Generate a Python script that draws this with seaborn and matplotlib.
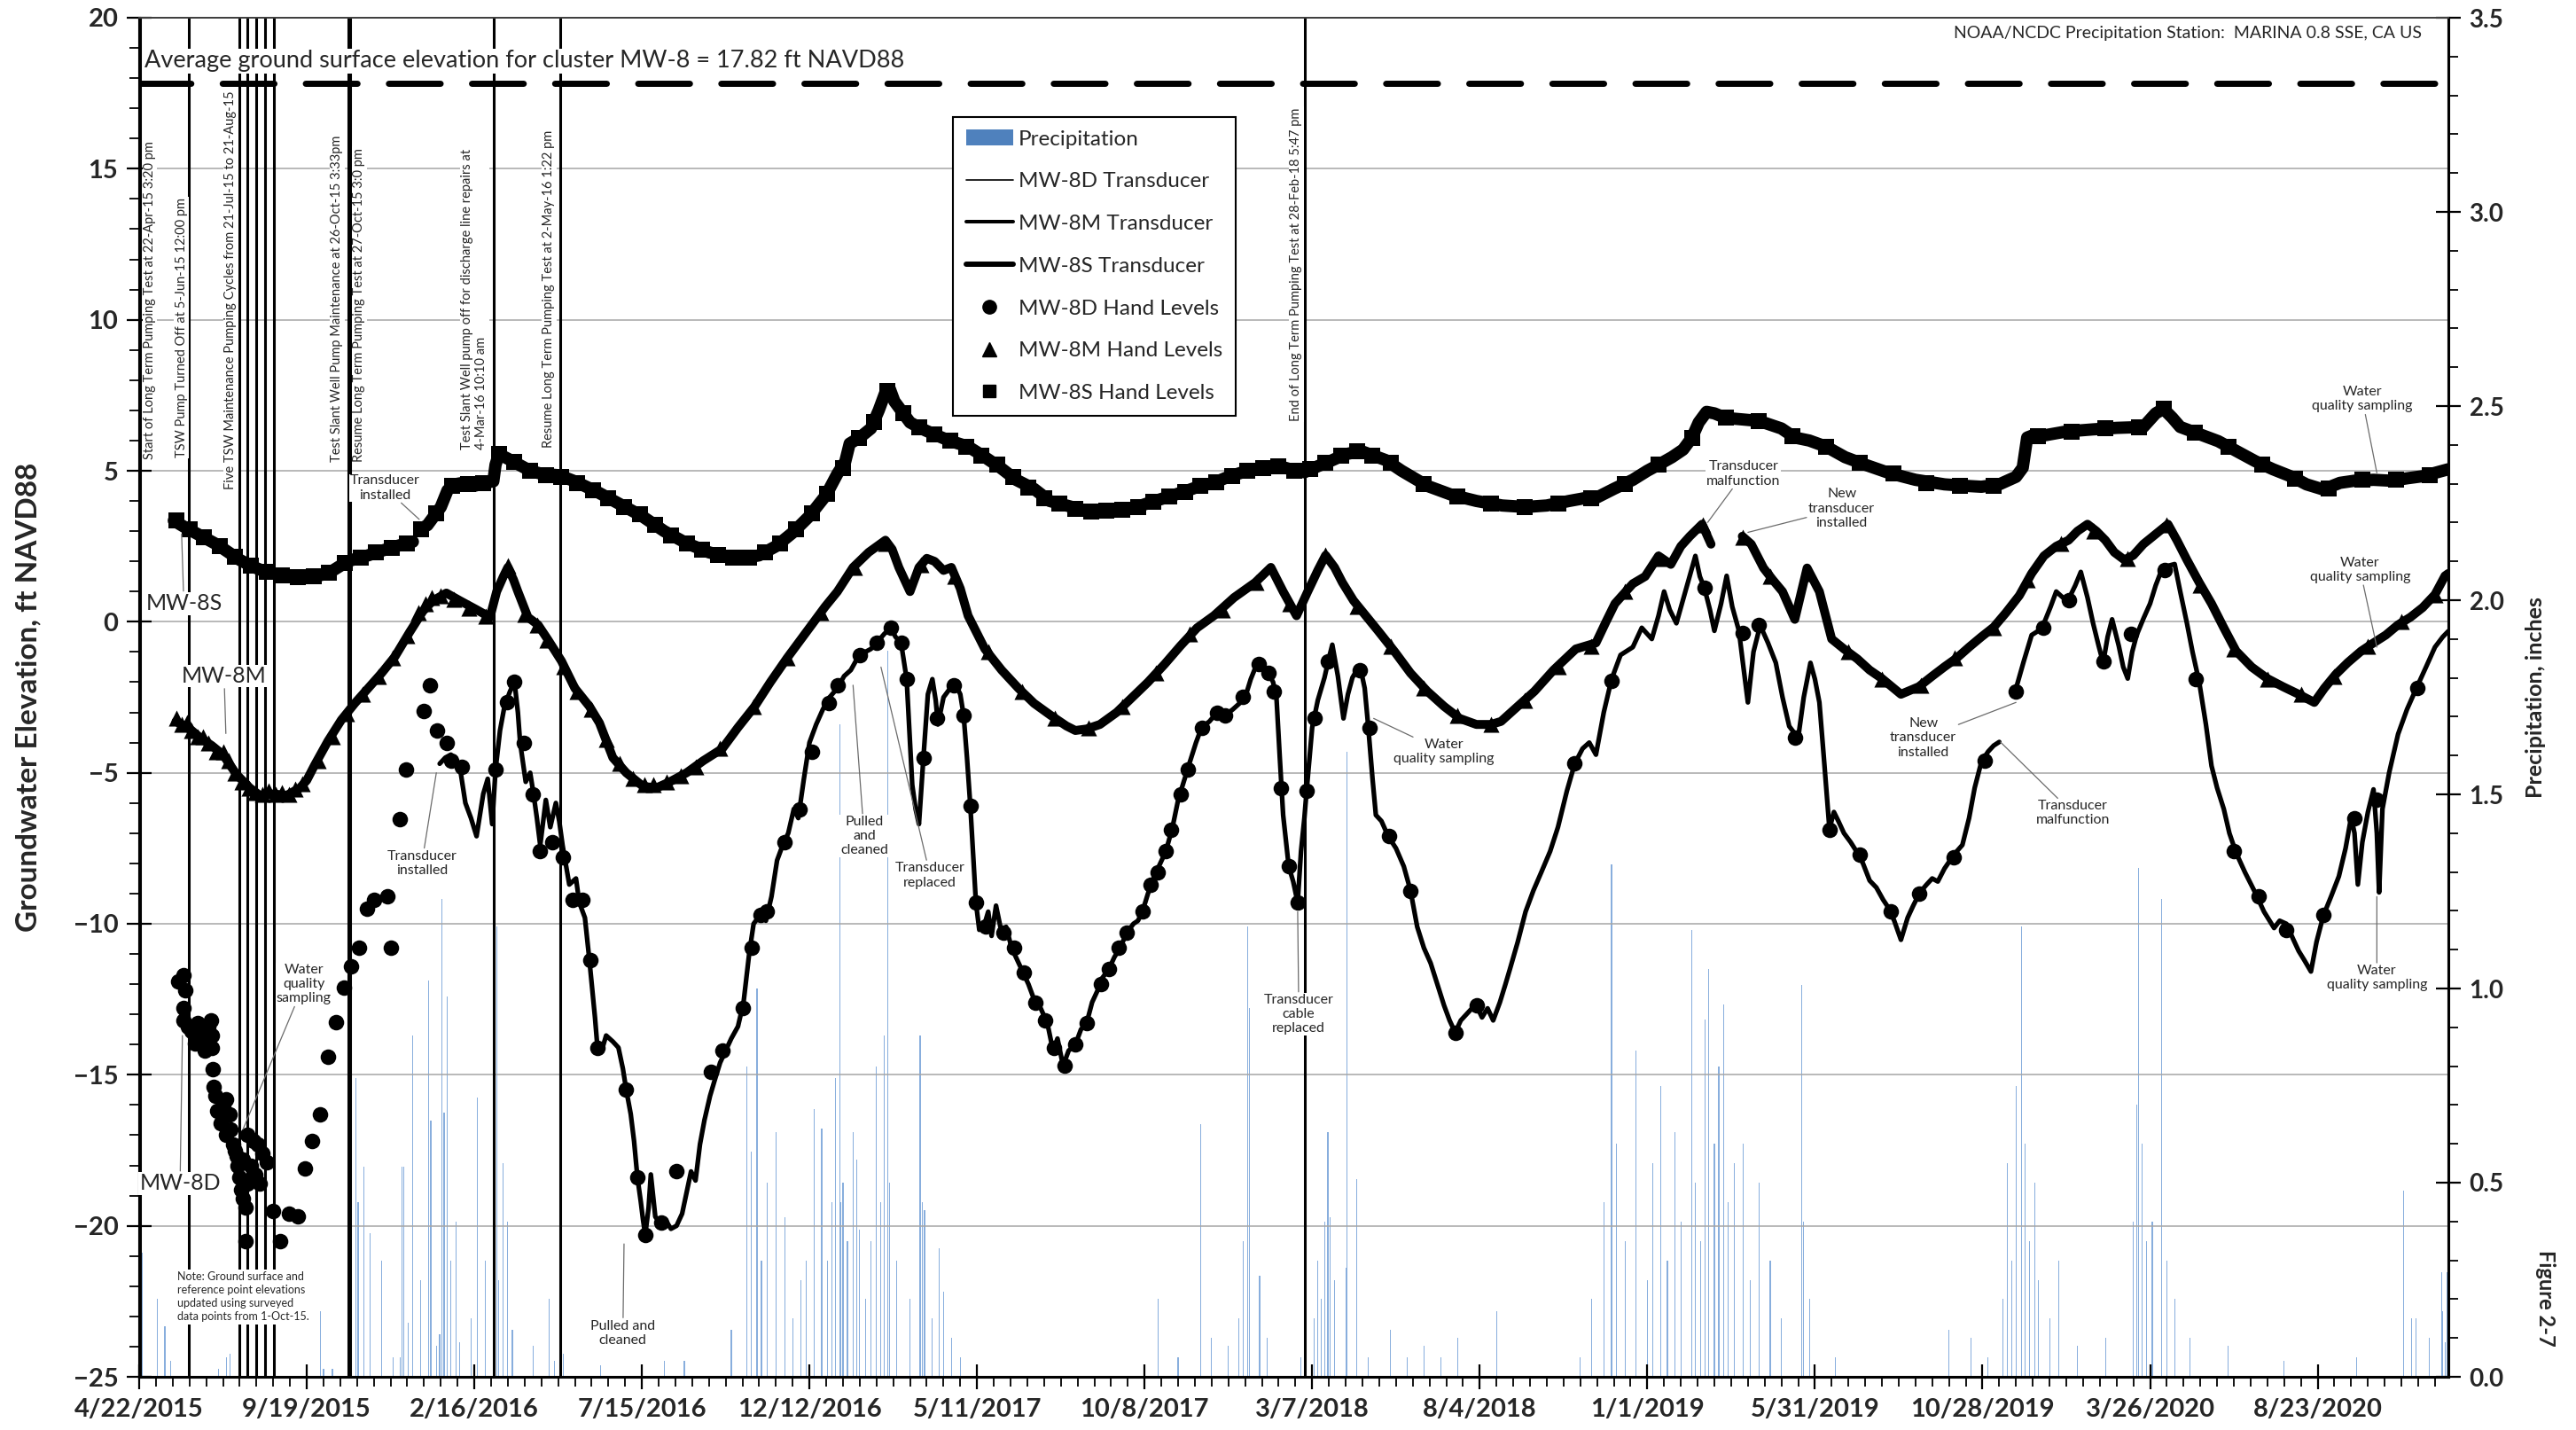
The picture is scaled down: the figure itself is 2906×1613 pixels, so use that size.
import numpy as np
import pandas as pd
import matplotlib
matplotlib.use("Agg")
import matplotlib.pyplot as plt
import matplotlib.dates as mdates
from matplotlib.lines import Line2D
from matplotlib.patches import Patch
from matplotlib.ticker import FixedLocator, MultipleLocator, FormatStrFormatter
import seaborn as sns

nan = np.nan
START = pd.Timestamp("2015-04-22")
END_DAY = 2067  # last day shown, counted from START

# ---- data (day = days since 22-Apr-2015, value = ft NAVD88) ----
x_tick_labels = ["4/22/2015", "9/19/2015", "2/16/2016", "7/15/2016", "12/12/2016",
                 "5/11/2017", "10/8/2017", "3/7/2018", "8/4/2018", "1/1/2019",
                 "5/31/2019", "10/28/2019", "3/26/2020", "8/23/2020"]

mw8s_transducer = [
    (31, 3.35), (40, 3.15), (50, 2.95), (60, 2.75), (70, 2.55), (80, 2.3), (90, 2.05), (100, 1.85),
    (110, 1.7), (120, 1.6), (130, 1.52), (140, 1.48), (150, 1.47), (160, 1.52), (170, 1.62), (180, 1.85),
    (187, 2.0), (195, 2.1), (205, 2.2), (217, 2.35), (230, 2.5), (245, 2.65), (248, nan),
    (251, 3.05), (258, 3.2), (264, 3.5), (270, 3.8), (276, 4.35), (282, 4.55), (290, 4.6), (300, 4.5),
    (310, 4.6), (317, 4.65), (319, 5.2), (322, 5.55), (330, 5.4), (340, 5.2), (350, 5.0), (360, 4.9),
    (376, 4.85), (390, 4.65), (410, 4.3), (430, 3.9), (450, 3.5), (470, 3.0), (490, 2.6), (510, 2.3),
    (525, 2.15), (540, 2.1), (555, 2.2), (570, 2.5), (585, 2.95), (600, 3.5), (615, 4.2), (625, 4.9),
    (632, 5.3), (636, 5.9), (645, 6.1), (655, 6.4), (662, 7.0), (668, 7.6), (672, 7.7), (676, 7.3),
    (682, 7.0), (690, 6.6), (700, 6.4), (712, 6.2), (725, 6.0), (742, 5.8), (755, 5.5), (771, 5.1),
    (785, 4.7), (801, 4.4), (815, 4.0), (830, 3.85), (845, 3.7), (859, 3.65), (875, 3.7), (889, 3.75),
    (905, 3.95), (918, 4.1), (935, 4.3), (950, 4.5), (962, 4.6), (975, 4.8), (992, 5.0), (1005, 5.1),
    (1021, 5.15), (1035, 5.0), (1043, 4.95), (1055, 5.15), (1065, 5.3), (1080, 5.55), (1094, 5.65),
    (1105, 5.5), (1116, 5.35), (1130, 5.0), (1153, 4.5), (1175, 4.2), (1197, 4.0), (1220, 3.85),
    (1241, 3.8), (1260, 3.85), (1280, 4.0), (1295, 4.1), (1304, 4.1), (1320, 4.4), (1337, 4.7),
    (1350, 5.0), (1360, 5.2), (1372, 5.45), (1382, 5.7), (1390, 6.1), (1396, 6.6), (1403, 6.95),
    (1410, 6.9), (1420, 6.75), (1435, 6.7), (1450, 6.65), (1470, 6.4), (1482, 6.1), (1495, 6.0),
    (1510, 5.8), (1527, 5.45), (1545, 5.2), (1566, 4.93), (1590, 4.7), (1616, 4.55), (1635, 4.5),
    (1649, 4.47), (1665, 4.55), (1680, 4.8), (1686, 5.1), (1690, 6.1), (1697, 6.2), (1705, 6.17),
    (1725, 6.3), (1749, 6.37), (1770, 6.42), (1794, 6.45), (1805, 6.9), (1812, 7.05), (1820, 6.75),
    (1827, 6.45), (1845, 6.2), (1861, 5.98), (1880, 5.6), (1894, 5.32), (1910, 5.05), (1927, 4.8),
    (1940, 4.55), (1955, 4.38), (1970, 4.6), (1983, 4.67), (2000, 4.7), (2016, 4.67), (2030, 4.75),
    (2044, 4.82), (2067, 5.05)]

mw8m_transducer = [
    (33, -3.3), (40, -3.45), (47, -3.6), (55, -3.85), (65, -4.1), (75, -4.4), (87, -5.05), (99, -5.5),
    (108, -5.75), (120, -5.7), (132, -5.75), (144, -5.5), (150, -5.25), (157, -4.75), (169, -3.95),
    (181, -3.25), (193, -2.7), (205, -2.2), (217, -1.7), (229, -1.15), (242, -0.35), (254, 0.35),
    (263, 0.7), (275, 0.95), (287, 0.7), (302, 0.4), (314, 0.15), (320, 1.0), (326, 1.5), (330, 1.8),
    (335, 1.4), (339, 1.0), (348, 0.15), (357, -0.1), (366, -0.6), (378, -1.3), (390, -2.2), (403, -2.8),
    (412, -3.35), (424, -4.5), (436, -5.0), (451, -5.45), (463, -5.5), (475, -5.3), (490, -5.0),
    (505, -4.6), (522, -4.2), (536, -3.5), (551, -2.8), (565, -2.0), (580, -1.2), (592, -0.6),
    (602, -0.1), (614, 0.5), (625, 1.0), (639, 1.8), (653, 2.3), (668, 2.7), (674, 2.4), (680, 1.8),
    (690, 1.0), (698, 1.8), (705, 2.1), (712, 2.0), (720, 1.7), (727, 1.8), (735, 1.1), (742, 0.2),
    (757, -0.9), (772, -1.6), (787, -2.2), (801, -2.7), (816, -3.1), (830, -3.45), (838, -3.6),
    (848, -3.55), (860, -3.4), (875, -3.0), (889, -2.5), (903, -2.0), (918, -1.4), (932, -0.8),
    (947, -0.2), (962, 0.2), (980, 0.8), (999, 1.3), (1013, 1.8), (1024, 1.0), (1030, 0.6), (1036, 0.2),
    (1046, 1.0), (1055, 1.7), (1062, 2.2), (1070, 1.8), (1077, 1.3), (1087, 0.7), (1098, 0.2),
    (1109, -0.3), (1124, -1.0), (1138, -1.7), (1153, -2.3), (1168, -2.8), (1182, -3.2), (1197, -3.4),
    (1210, -3.4), (1219, -3.3), (1234, -2.8), (1249, -2.3), (1266, -1.6), (1286, -0.9), (1304, -0.7),
    (1313, 0.0), (1321, 0.6), (1337, 1.26), (1348, 1.5), (1360, 2.18), (1371, 1.9), (1380, 2.5),
    (1388, 2.83), (1399, 3.23), (1407, 2.57), (1420, nan), (1435, 2.83), (1443, 2.57), (1454, 1.78),
    (1462, 1.4), (1471, 1.0), (1482, 0.08), (1493, 1.78), (1504, 1.0), (1515, -0.57), (1526, -0.9),
    (1538, -1.23), (1549, -1.6), (1560, -1.88), (1577, -2.4), (1593, -2.15), (1605, -1.8), (1616, -1.49),
    (1627, -1.2), (1638, -0.84), (1649, -0.5), (1660, -0.18), (1671, 0.3), (1683, 0.87), (1694, 1.6),
    (1705, 2.18), (1716, 2.5), (1727, 2.7), (1735, 3.0), (1744, 3.23), (1752, 3.0), (1760, 2.7),
    (1768, 2.3), (1777, 2.05), (1785, 2.2), (1794, 2.57), (1805, 2.9), (1816, 3.23), (1824, 2.7),
    (1833, 2.05), (1844, 1.3), (1855, 0.6), (1866, -0.2), (1877, -0.97), (1891, -1.5), (1905, -1.88),
    (1919, -2.15), (1933, -2.4), (1947, -2.67), (1956, -2.2), (1966, -1.75), (1977, -1.35), (1989, -0.97),
    (2000, -0.7), (2011, -0.44), (2022, -0.1), (2033, 0.15), (2044, 0.47), (2055, 0.9), (2064, 1.52),
    (2067, 1.6)]

mw8d_transducer = [
    (269, -4.7), (274, -4.5), (279, -4.4), (284, -4.6), (287, -4.8), (292, -6.0), (297, -6.5), (302, -7.1),
    (305, -6.4), (308, -5.7), (312, -5.2), (316, -6.7), (319, -4.9), (323, -3.6), (327, -2.8), (332, -2.3),
    (336, -2.0), (339, -3.0), (341, -4.0), (346, -5.3), (350, -5.0), (353, -5.7), (356, -6.5), (359, -7.4),
    (364, -5.9), (368, -6.8), (373, -6.0), (376, -6.6), (379, -7.4), (385, -8.7), (391, -8.5), (394, -9.3),
    (399, -9.8), (403, -11.2), (408, -13.1), (410, -14.0), (414, -14.2), (418, -13.7), (424, -13.9),
    (429, -14.1), (433, -14.8), (436, -15.5), (440, -16.3), (443, -17.2), (446, -18.4), (449, -19.2),
    (451, -19.8), (453, -20.3), (456, -19.4), (458, -18.3), (462, -19.7), (466, -19.9), (471, -19.8),
    (476, -20.1), (481, -20.0), (486, -19.6), (490, -18.9), (494, -18.2), (498, -18.5), (502, -17.3),
    (506, -16.5), (511, -15.7), (515, -15.2), (520, -14.6), (525, -14.2), (530, -13.8), (536, -13.4),
    (541, -12.6), (546, -11.0), (550, -10.0), (556, -9.7), (561, -9.9), (566, -9.1), (571, -7.9),
    (576, -7.4), (581, -7.0), (586, -6.2), (590, -6.5), (595, -5.2), (600, -4.0), (606, -3.4), (612, -2.9),
    (618, -2.5), (625, -2.2), (631, -1.8), (637, -1.6), (643, -1.2), (650, -1.0), (655, -0.9), (660, -0.7),
    (667, -0.4), (673, -0.2), (677, -0.5), (682, -0.7), (687, -1.9), (692, -5.4), (695, -6.2), (698, -6.7),
    (702, -4.5), (706, -2.4), (710, -1.9), (713, -2.6), (715, -3.4), (720, -2.5), (726, -2.2), (731, -2.1),
    (735, -2.4), (738, -3.1), (741, -4.5), (744, -6.1), (747, -8.0), (749, -9.3), (752, -10.2),
    (756, -10.1), (760, -9.6), (763, -10.4), (767, -9.4), (772, -10.3), (776, -10.1), (781, -10.8),
    (786, -11.2), (791, -11.6), (796, -12.0), (802, -12.6), (807, -12.8), (813, -13.3), (818, -14.2),
    (822, -13.8), (827, -14.7), (832, -14.2), (838, -14.0), (843, -13.5), (848, -13.3), (853, -12.6),
    (858, -12.2), (862, -11.8), (868, -11.5), (873, -11.1), (878, -10.8), (884, -10.3), (890, -10.0),
    (894, -9.9), (898, -9.6), (903, -9.0), (909, -8.4), (914, -8.0), (919, -7.6), (925, -6.8), (930, -5.9),
    (935, -5.3), (940, -4.7), (946, -4.0), (951, -3.5), (958, -3.3), (965, -3.0), (972, -3.1), (979, -2.9),
    (985, -2.7), (990, -2.5), (995, -1.9), (1001, -1.35), (1006, -1.5), (1011, -1.7), (1015, -2.0),
    (1018, -2.5), (1021, -4.5), (1024, -6.4), (1029, -8.1), (1033, -8.6), (1037, -9.3), (1040, -7.6),
    (1043, -6.5), (1045, -5.6), (1050, -3.5), (1055, -2.6), (1061, -1.85), (1065, -1.2), (1068, -0.76),
    (1073, -1.8), (1078, -3.2), (1082, -2.4), (1086, -1.85), (1090, -1.6), (1093, -1.5), (1097, -2.2),
    (1100, -3.4), (1104, -5.2), (1107, -6.4), (1112, -6.6), (1118, -7.1), (1125, -7.5), (1132, -8.1),
    (1138, -8.9), (1144, -10.1), (1150, -10.8), (1156, -11.3), (1162, -12.0), (1168, -12.7),
    (1173, -13.2), (1178, -13.6), (1183, -13.2), (1188, -13.0), (1193, -12.8), (1197, -12.7),
    (1202, -13.1), (1207, -12.8), (1212, -13.2), (1218, -12.6), (1223, -12.0), (1227, -11.5),
    (1234, -10.6), (1241, -9.6), (1248, -8.9), (1255, -8.3), (1263, -7.6), (1270, -6.8), (1278, -5.6),
    (1285, -4.7), (1292, -4.2), (1298, -4.0), (1304, -4.4), (1311, -3.0), (1318, -1.9), (1326, -1.1),
    (1337, -0.84), (1345, -0.2), (1354, -0.57), (1360, 0.2), (1365, 1.0), (1370, 0.4), (1376, -0.05),
    (1384, 1.0), (1393, 2.18), (1397, 1.5), (1401, 1.13), (1406, 0.4), (1410, -0.3), (1416, 0.6),
    (1421, 1.52), (1426, 0.5), (1432, -0.3), (1436, -1.5), (1440, -2.67), (1445, -1.0), (1451, -0.12),
    (1458, -0.7), (1465, -1.36), (1471, -2.5), (1477, -3.46), (1485, -3.85), (1490, -2.5), (1496, -1.36),
    (1500, -1.9), (1504, -2.67), (1508, -4.5), (1513, -6.86), (1517, -6.3), (1521, -6.6), (1526, -7.0),
    (1532, -7.3), (1538, -7.65), (1543, -8.0), (1549, -8.57), (1555, -8.8), (1561, -9.2), (1566, -9.48),
    (1571, -9.9), (1577, -10.53), (1583, -9.8), (1588, -9.4), (1594, -8.96), (1600, -8.7), (1605, -8.5),
    (1610, -8.6), (1616, -8.17), (1621, -7.9), (1627, -7.6), (1632, -7.39), (1638, -6.5), (1643, -5.5),
    (1649, -4.64), (1655, -4.3), (1660, -4.1), (1665, -3.98), (1672, nan), (1680, -2.21), (1687, -1.3),
    (1694, -0.44), (1700, -0.3), (1705, -0.05), (1711, 0.5), (1716, 1.0), (1722, 0.8), (1727, 0.74),
    (1733, 1.2), (1738, 1.65), (1744, 0.8), (1749, -0.05), (1754, -0.8), (1758, -1.36), (1762, -0.5),
    (1766, 0.08), (1772, -0.8), (1776, -1.5), (1780, -1.88), (1784, -1.0), (1788, -0.44), (1794, 0.1),
    (1800, 0.6), (1805, 1.2), (1811, 1.78), (1816, 1.85), (1822, 1.91), (1827, 1.0), (1833, -0.05),
    (1838, -1.0), (1844, -2.0), (1850, -3.4), (1855, -4.77), (1860, -5.5), (1866, -6.2), (1871, -7.0),
    (1877, -7.65), (1885, -8.3), (1894, -8.96), (1902, -9.6), (1911, -10.14), (1916, -9.9), (1922, -10.0),
    (1928, -10.5), (1933, -10.9), (1938, -11.2), (1944, -11.58), (1949, -10.6), (1955, -9.74),
    (1962, -9.1), (1969, -8.43), (1975, -7.5), (1980, -6.47), (1983, -7.0), (1986, -8.7), (1990, -7.3),
    (1995, -6.3), (2000, -5.55), (2003, -7.0), (2005, -8.96), (2008, -6.2), (2014, -5.0), (2022, -3.72),
    (2030, -2.9), (2039, -2.15), (2047, -1.5), (2055, -0.84), (2062, -0.5), (2067, -0.31)]

mw8d_hand = [
    (35, -11.9), (40, -11.7), (41, -12.2), (40, -12.8), (40, -13.2), (44, -13.4), (47, -13.55), (50, -13.95),
    (52, -13.3), (56, -13.6), (59, -14.2), (60, -13.9), (62, -13.4), (64, -13.2), (65, -13.7), (65, -14.1),
    (66, -14.8), (67, -15.4), (68, -15.7), (70, -16.2), (73, -16.6), (75, -16.0), (78, -15.8), (78, -17.0),
    (81, -16.3), (82, -16.8), (84, -17.3), (86, -17.5), (87, -17.7), (88, -18.0), (90, -18.4), (91, -18.8),
    (93, -17.8), (93, -19.1), (95, -19.4), (95, -20.5), (97, -17.0), (97, -18.6), (100, -18.0),
    (102, -17.2), (104, -18.3), (106, -17.3), (108, -18.6), (110, -17.6), (114, -17.9), (120, -19.5),
    (126, -20.5), (134, -19.6), (142, -19.7), (148, -18.1), (155, -17.2), (162, -16.3), (169, -14.4),
    (176, -13.25), (183, -12.1), (190, -11.4), (197, -10.8), (204, -9.5), (210, -9.2), (222, -9.1),
    (225, -10.8), (233, -6.55), (239, -4.9), (255, -2.95), (260, -2.1), (267, -3.6), (275, -4.0),
    (279, -4.6), (289, -4.8), (319, -4.9), (329, -2.65), (336, -2.0), (344, -4.0), (352, -5.7),
    (359, -7.6), (370, -7.3), (379, -7.8), (388, -9.2), (397, -9.2), (404, -11.2), (410, -14.1),
    (436, -15.5), (446, -18.4), (453, -20.3), (467, -19.9), (481, -18.2), (512, -14.9), (522, -14.2),
    (540, -12.8), (548, -10.8), (556, -9.7), (562, -9.6), (578, -7.3), (591, -6.2), (602, -4.3),
    (617, -2.7), (625, -2.1), (645, -1.1), (660, -0.7), (673, -0.2), (682, -0.7), (687, -1.9),
    (702, -4.5), (714, -3.2), (729, -2.1), (738, -3.1), (744, -6.1), (749, -9.3), (758, -10.1),
    (774, -10.3), (783, -10.8), (792, -11.6), (802, -12.6), (811, -13.2), (819, -14.1), (828, -14.7),
    (838, -14.0), (848, -13.3), (861, -12.0), (868, -11.5), (877, -10.8), (884, -10.3), (898, -9.6),
    (905, -8.7), (912, -8.3), (919, -7.6), (924, -6.9), (932, -5.7), (939, -4.9), (951, -3.5),
    (965, -3.0), (972, -3.1), (988, -2.5), (1002, -1.4), (1011, -1.7), (1016, -2.3), (1022, -5.5),
    (1029, -8.1), (1037, -9.3), (1045, -5.6), (1052, -3.2), (1064, -1.3), (1093, -1.6), (1101, -3.5),
    (1119, -7.1), (1138, -8.9), (1178, -13.6), (1197, -12.7), (1285, -4.7), (1318, -1.95), (1401, 1.13),
    (1435, -0.38), (1450, -0.12), (1482, -3.85), (1513, -6.9), (1540, -7.7), (1568, -9.6), (1593, -9.0),
    (1624, -7.8), (1652, -4.6), (1680, -2.3), (1704, -0.2), (1727, 0.7), (1758, -1.3), (1783, -0.4),
    (1813, 1.7), (1841, -1.9), (1875, -7.6), (1897, -9.1), (1922, -10.2), (1955, -9.7), (1983, -6.5),
    (2003, -5.9), (2039, -2.2)]

mw8m_hand = [
    (33, -3.2), (38, -3.4), (43, -3.35), (47, -3.6), (52, -3.8), (57, -3.8), (62, -4.0), (69, -4.3),
    (75, -4.3), (80, -4.6), (86, -5.0), (92, -5.3), (98, -5.5), (104, -5.65), (110, -5.7), (116, -5.6),
    (122, -5.7), (128, -5.65), (134, -5.7), (140, -5.55), (146, -5.35), (160, -4.6), (173, -3.8),
    (186, -3.05), (200, -2.4), (214, -1.8), (227, -1.2), (240, -0.45), (250, 0.3), (256, 0.6), (262, 0.8),
    (270, 0.85), (282, 0.75), (295, 0.45), (310, 0.2), (330, 1.85), (345, 0.25), (356, -0.1), (365, -0.6),
    (380, -1.5), (392, -2.3), (405, -2.9), (418, -3.9), (430, -4.7), (442, -5.2), (452, -5.4), (460, -5.4),
    (472, -5.3), (485, -5.1), (498, -4.8), (520, -4.2), (550, -2.8), (580, -1.2), (610, 0.3), (640, 1.8),
    (668, 2.6), (700, 1.9), (730, 1.5), (760, -1.0), (790, -2.3), (820, -3.2), (850, -3.5), (880, -2.8),
    (910, -1.7), (940, -0.4), (970, 0.4), (1000, 1.3), (1030, 0.6), (1062, 2.2), (1090, 0.5), (1120, -0.8),
    (1150, -2.2), (1180, -3.1), (1210, -3.4), (1240, -2.6), (1270, -1.5), (1300, -0.8), (1330, 1.0),
    (1360, 2.1), (1400, 3.2), (1435, 2.8), (1460, 1.5), (1495, 1.6), (1530, -1.0), (1560, -1.9),
    (1595, -2.1), (1625, -1.2), (1660, -0.2), (1690, 1.4), (1720, 2.6), (1750, 3.0), (1780, 2.1),
    (1815, 3.2), (1845, 1.2), (1875, -0.9), (1905, -1.9), (1935, -2.4), (1965, -1.8), (1995, -0.8),
    (2025, 0.0), (2055, 0.9)]

mw8s_hand = [
    (33, 3.35), (45, 3.05), (58, 2.8), (72, 2.5), (86, 2.15), (100, 1.85), (114, 1.65), (128, 1.55),
    (142, 1.48), (156, 1.5), (170, 1.62), (184, 1.95), (198, 2.12), (212, 2.3), (226, 2.45), (240, 2.6),
    (252, 3.05), (266, 3.6), (280, 4.5), (294, 4.55), (308, 4.6), (322, 5.55), (336, 5.3), (350, 5.0),
    (364, 4.85), (378, 4.8), (392, 4.6), (406, 4.35), (420, 4.1), (434, 3.8), (448, 3.55), (462, 3.2),
    (476, 2.85), (490, 2.6), (504, 2.4), (518, 2.2), (532, 2.12), (546, 2.12), (560, 2.3), (574, 2.6),
    (588, 3.05), (602, 3.6), (616, 4.25), (630, 5.1), (644, 6.1), (658, 6.6), (670, 7.65), (684, 6.9),
    (698, 6.45), (712, 6.2), (726, 6.0), (740, 5.8), (754, 5.5), (768, 5.2), (782, 4.8), (796, 4.45),
    (810, 4.1), (824, 3.9), (838, 3.75), (852, 3.65), (866, 3.68), (880, 3.72), (894, 3.8), (908, 3.98),
    (922, 4.15), (936, 4.3), (950, 4.5), (964, 4.62), (978, 4.82), (992, 5.0), (1006, 5.1), (1020, 5.15),
    (1034, 5.0), (1048, 5.05), (1062, 5.25), (1076, 5.5), (1090, 5.65), (1104, 5.5), (1120, 5.25),
    (1150, 4.55), (1180, 4.15), (1210, 3.9), (1240, 3.8), (1270, 3.9), (1300, 4.1), (1330, 4.55),
    (1360, 5.2), (1390, 6.1), (1420, 6.75), (1450, 6.65), (1480, 6.15), (1510, 5.8), (1540, 5.25),
    (1570, 4.9), (1600, 4.6), (1630, 4.5), (1660, 4.5), (1700, 6.15), (1730, 6.3), (1760, 6.4),
    (1790, 6.45), (1812, 7.05), (1840, 6.25), (1870, 5.8), (1900, 5.2), (1930, 4.75), (1960, 4.4),
    (1990, 4.7), (2020, 4.7), (2050, 4.85)]

# daily precipitation, inches
precip = [
    (3, 0.32), (16, 0.20), (23, 0.13), (28, 0.04), (71, 0.02), (78, 0.05), (81, 0.06), (162, 0.17),
    (165, 0.02), (173, 0.02), (189, 0.10), (194, 0.77), (196, 0.45), (201, 0.54), (207, 0.37), (217, 0.30),
    (227, 0.05), (234, 0.05), (235, 0.54), (237, 0.54), (241, 0.14), (245, 0.88), (252, 0.25), (259, 1.02),
    (261, 0.66), (266, 0.08), (269, 0.11), (271, 1.23), (273, 0.68), (276, 0.98), (279, 0.30), (284, 0.40),
    (287, 0.09), (297, 0.15), (303, 0.72), (310, 0.30), (318, 0.20), (320, 1.16), (322, 0.25), (326, 0.55),
    (330, 0.40), (334, 0.12), (353, 0.08), (367, 0.20), (372, 0.04), (380, 0.06), (413, 0.03), (470, 0.04),
    (488, 0.04), (530, 0.12), (544, 0.80), (548, 0.58), (553, 1.00), (557, 0.30), (562, 0.50), (570, 0.63),
    (578, 0.41), (585, 0.15), (592, 0.25), (597, 0.30), (604, 0.69), (611, 0.64), (616, 0.30), (620, 0.45),
    (623, 0.77), (627, 1.68), (628, 0.45), (630, 0.50), (634, 0.35), (639, 0.63), (642, 0.56), (645, 0.38),
    (650, 0.20), (655, 0.35), (660, 0.80), (664, 0.45), (667, 0.88), (670, 1.87), (672, 0.50), (678, 0.30),
    (690, 0.20), (699, 0.88), (701, 0.45), (703, 0.43), (710, 0.15), (716, 0.33), (720, 0.22), (727, 0.10),
    (735, 0.05), (912, 0.20), (930, 0.05), (950, 0.65), (960, 0.10), (975, 0.08), (984, 0.15), (988, 0.35),
    (992, 1.16), (994, 0.95), (1003, 0.26), (1010, 0.10), (1040, 0.05), (1052, 0.15), (1055, 0.30),
    (1058, 0.20), (1061, 0.40), (1064, 0.63), (1066, 0.41), (1070, 0.25), (1080, 0.28), (1081, 1.61),
    (1090, 0.51), (1100, 0.05), (1120, 0.12), (1135, 0.05), (1150, 0.08), (1165, 0.05), (1180, 0.10),
    (1215, 0.17), (1290, 0.05), (1300, 0.20), (1311, 0.45), (1318, 1.32), (1322, 0.60), (1330, 0.35),
    (1340, 0.84), (1350, 0.25), (1355, 0.55), (1362, 0.75), (1368, 0.30), (1375, 0.63), (1380, 0.40),
    (1390, 1.15), (1393, 0.50), (1398, 0.35), (1402, 0.92), (1405, 1.05), (1410, 0.60), (1414, 0.80),
    (1418, 0.96), (1422, 0.45), (1428, 0.55), (1436, 0.60), (1442, 0.25), (1450, 0.50), (1460, 0.30),
    (1470, 0.15), (1488, 1.01), (1490, 0.40), (1495, 0.20), (1518, 0.05), (1620, 0.12), (1640, 0.10),
    (1655, 0.05), (1668, 0.20), (1672, 0.55), (1676, 0.30), (1680, 0.75), (1685, 1.16), (1688, 0.60),
    (1692, 0.35), (1697, 0.50), (1700, 0.25), (1710, 0.15), (1718, 0.30), (1735, 0.08), (1760, 0.10),
    (1785, 0.40), (1788, 0.70), (1790, 1.31), (1793, 0.60), (1797, 0.35), (1802, 0.40), (1810, 1.23),
    (1815, 0.30), (1822, 0.20), (1836, 0.10), (1870, 0.08), (1920, 0.04), (1985, 0.05), (2027, 0.48),
    (2034, 0.15), (2038, 0.15), (2050, 0.10), (2061, 0.27), (2062, 0.17), (2064, 0.09), (2066, 0.27)]

event_times = ["2015-04-22 15:20", "2015-06-05 12:00", "2015-07-21", "2015-07-28", "2015-08-05",
               "2015-08-13", "2015-08-21", "2015-10-26 15:33", "2015-10-27 15:00", "2016-03-04 10:10",
               "2016-05-02 13:22", "2018-02-28 17:47"]

# (text, center day, bottom value)
event_texts = [
    ("Start of Long Term Pumping Test at 22-Apr-15 3:20 pm", 9.5, 5.38),
    ("TSW Pump Turned Off at 5-Jun-15 12:00 pm", 38, 5.44),
    ("Five TSW Maintenance Pumping Cycles from 21-Jul-15 to 21-Aug-15", 82, 4.38),
    ("Test Slant Well Pump Maintenance at 26-Oct-15 3:33pm", 177, 5.3),
    ("Resume Long Term Pumping Test at 27-Oct-15 3:0 pm", 197, 5.3),
    ("Test Slant Well pump off for discharge line repairs at\n4-Mar-16 10:10 am", 300, 5.7),
    ("Resume Long Term Pumping Test at 2-May-16 1:22 pm", 366.7, 5.76),
    ("End of Long Term Pumping Test at 28-Feb-18 5:47 pm", 1035.7, 6.65)]

# (text, text day, text value, point day, point value, font size)
callouts = [
    ("MW-8S", 40, 0.6, 38, 2.9, 18),
    ("MW-8M", 76, -1.8, 77.6, -3.7, 18),
    ("MW-8D", 36.6, -18.6, 38.7, -13.7, 18),
    ("Water\nquality\nsampling", 147.5, -12.0, 93, -16.8, 11.5),
    ("Transducer\ninstalled", 220, 4.43, 250.7, 3.39, 11.5),
    ("Transducer\ninstalled", 253, -8.0, 266, -5.0, 11.5),
    ("Pulled and\ncleaned", 433, -23.55, 434, -20.6, 11.5),
    ("Pulled\nand\ncleaned", 649, -7.1, 639, -2.1, 11.5),
    ("Transducer\nreplaced", 708, -8.4, 664, -1.5, 11.5),
    ("Transducer\ncable\nreplaced", 1038, -13.0, 1037, -9.6, 11.5),
    ("Water\nquality sampling", 1168, -4.3, 1105, -3.2, 11.5),
    ("Transducer\nmalfunction", 1436, 4.9, 1404, 3.29, 11.5),
    ("New\ntransducer\ninstalled", 1524, 3.75, 1440, 2.96, 11.5),
    ("New\ntransducer\ninstalled", 1597, -3.85, 1680, -2.67, 11.5),
    ("Transducer\nmalfunction", 1731, -6.34, 1666, -3.98, 11.5),
    ("Water\nquality sampling", 1990, 7.37, 2003, 4.93, 11.5),
    ("Water\nquality sampling", 1988, 1.72, 2003, -0.84, 11.5),
    ("Water\nquality sampling", 2003, -11.8, 2003, -9.1, 11.5)]

GROUND_ELEV = 17.82

# ---- plotting ----
X0 = mdates.date2num(START)


def series_frame(pairs):
    df = pd.DataFrame(pairs, columns=["day", "ft"])
    df["seg"] = df["ft"].isna().cumsum()
    df = df.dropna().copy()
    df["x"] = X0 + df["day"]
    return df


sns.set_theme(style="white")
plt.rcParams["font.family"] = ["Lato", "DejaVu Sans"]

W, H = 2906, 1613
fig = plt.figure(figsize=(W / 100, H / 100), dpi=100)
ax = fig.add_axes([157 / W, 1 - 1553 / H, 2605 / W, 1533 / H])
ax2 = ax.twinx()
ax.set_zorder(ax2.get_zorder() + 1)
ax.patch.set_visible(False)

# precipitation bars on the right axis
pdf = series_frame(precip)
ax2.bar(pdf["x"], pdf["ft"], width=0.9, color="#5b8fd0", linewidth=0, alpha=0.72)
ax2.set_ylim(0, 3.5)

# transducer lines
for pairs, lw in [(mw8s_transducer, 10.0), (mw8m_transducer, 7.2), (mw8d_transducer, 3.8)]:
    sns.lineplot(data=series_frame(pairs), x="x", y="ft", units="seg", estimator=None, sort=False,
                 color="black", linewidth=lw, ax=ax, legend=False,
                 solid_capstyle="round", solid_joinstyle="round")

# hand levels
for pairs, mk, size in [(mw8s_hand, "s", 170), (mw8m_hand, "^", 170), (mw8d_hand, "o", 160)]:
    sns.scatterplot(data=series_frame(pairs), x="x", y="ft", marker=mk, s=size, color="black",
                    edgecolor="black", linewidth=0, ax=ax, legend=False, zorder=4)

# event lines
for t in event_times:
    ax.axvline(mdates.date2num(pd.Timestamp(t)), color="black", lw=2.2, zorder=2)

for txt, dday, val in event_texts:
    ax.text(X0 + dday, val, txt, rotation=90, ha="center", va="bottom", fontsize=10.5,
            multialignment="left", zorder=3,
            bbox=dict(boxstyle="square,pad=0.1", fc="white", ec="none"))

# ground surface
ax.axhline(GROUND_ELEV, color="black", lw=5, dashes=(8.4, 5.1), dash_capstyle="round", zorder=3)
ax.text(X0 + 5, 18.2, "Average ground surface elevation for cluster MW-8 = 17.82 ft NAVD88",
        fontsize=19.5, ha="left", va="bottom", zorder=3,
        bbox=dict(boxstyle="square,pad=0.05", fc="white", ec="none"))

ax.text(X0 + 2043, 19.5, "NOAA/NCDC Precipitation Station:  MARINA 0.8 SSE, CA US",
        fontsize=14, ha="right", va="center")

ax.text(X0 + 34, -22.35,
        "Note: Ground surface and\nreference point elevations\nupdated using surveyed\ndata points from 1-Oct-15.",
        fontsize=9, ha="left", va="center", linespacing=1.3, zorder=3,
        bbox=dict(boxstyle="square,pad=0.2", fc="white", ec="none"))

for txt, tday, tval, pday, pval, fs in callouts:
    ax.annotate(txt, xy=(X0 + pday, pval), xytext=(X0 + tday, tval), ha="center", va="center",
                fontsize=fs, zorder=5,
                arrowprops=dict(arrowstyle="-", color="#6b6b6b", lw=0.9, shrinkA=1, shrinkB=0),
                bbox=dict(boxstyle="square,pad=0.05", fc="white", ec="none"))

# axes, ticks, grid
ax.set_xlim(X0, X0 + END_DAY)
ax.set_ylim(-25, 20)
ax.xaxis.set_major_locator(FixedLocator(X0 + 150 * np.arange(len(x_tick_labels))))
ax.xaxis.set_minor_locator(FixedLocator(X0 + 15 * np.arange(END_DAY // 15 + 1)))
ax.set_xticklabels(x_tick_labels, fontsize=20, fontweight="bold")
ax.yaxis.set_major_locator(MultipleLocator(5))
ax.yaxis.set_minor_locator(MultipleLocator(1))
ax.tick_params(axis="both", which="major", direction="inout", length=20, width=1.6, color="black",
               labelsize=21, pad=7)
ax.tick_params(axis="both", which="minor", direction="out", length=8, width=1.3, color="black")
ax.tick_params(axis="y", which="both", left=True, right=False)
ax.tick_params(axis="x", which="both", bottom=True, top=False)
plt.setp(ax.get_yticklabels(), fontweight="bold")
ax.grid(axis="y", which="major", color="#a6a6a6", lw=1.1)
ax.grid(axis="x", visible=False)
ax.set_axisbelow(True)

ax2.yaxis.set_major_locator(MultipleLocator(0.5))
ax2.yaxis.set_minor_locator(MultipleLocator(0.1))
ax2.yaxis.set_major_formatter(FormatStrFormatter("%.1f"))
ax2.tick_params(axis="y", which="major", direction="inout", length=20, width=1.6, color="black",
                labelsize=20, pad=7, right=True)
ax2.tick_params(axis="y", which="minor", direction="out", length=8, width=1.3, color="black", right=True)
plt.setp(ax2.get_yticklabels(), fontweight="bold")
ax2.grid(False)

ax.set_xlabel("")
ax.set_ylabel("Groundwater Elevation, ft NAVD88", fontsize=24, fontweight="bold")
ax.yaxis.set_label_coords(-0.0425, 0.5)
ax2.set_ylabel("Precipitation, inches", fontsize=18, fontweight="bold")
ax2.yaxis.set_label_coords(1.0335, 0.5)

for a in (ax, ax2):
    for side in ("left", "bottom", "right"):
        a.spines[side].set_color("black")
        a.spines[side].set_linewidth(2.2)
    a.spines["top"].set_color("#404040")
    a.spines["top"].set_linewidth(1.4)

fig.text(0.988, 0.0924, "Figure 2-7", rotation=-90, ha="center", va="center", fontsize=17,
         fontweight="bold")

# legend
handles = [Patch(facecolor="#4F81BD", edgecolor="none"),
           Line2D([], [], color="black", lw=1.2),
           Line2D([], [], color="black", lw=2.9, solid_capstyle="round"),
           Line2D([], [], color="black", lw=4.3, solid_capstyle="round"),
           Line2D([], [], color="black", marker="o", ls="none", ms=11),
           Line2D([], [], color="black", marker="^", ls="none", ms=11),
           Line2D([], [], color="black", marker="s", ls="none", ms=10)]
labels = ["Precipitation", "MW-8D Transducer", "MW-8M Transducer", "MW-8S Transducer",
          "MW-8D Hand Levels", "MW-8M Hand Levels", "MW-8S Hand Levels"]
leg = ax.legend(handles, labels, loc="upper left", bbox_to_anchor=(0.3524, 0.927), frameon=True,
                fancybox=False, framealpha=1, edgecolor="black", fontsize=17.5, handlelength=2.2,
                labelspacing=1.1, borderpad=0.6, handletextpad=0.25, borderaxespad=0)
leg.get_frame().set_linewidth(1.5)
leg.set_zorder(10)

fig.savefig("out.png", dpi=100, facecolor="white")
